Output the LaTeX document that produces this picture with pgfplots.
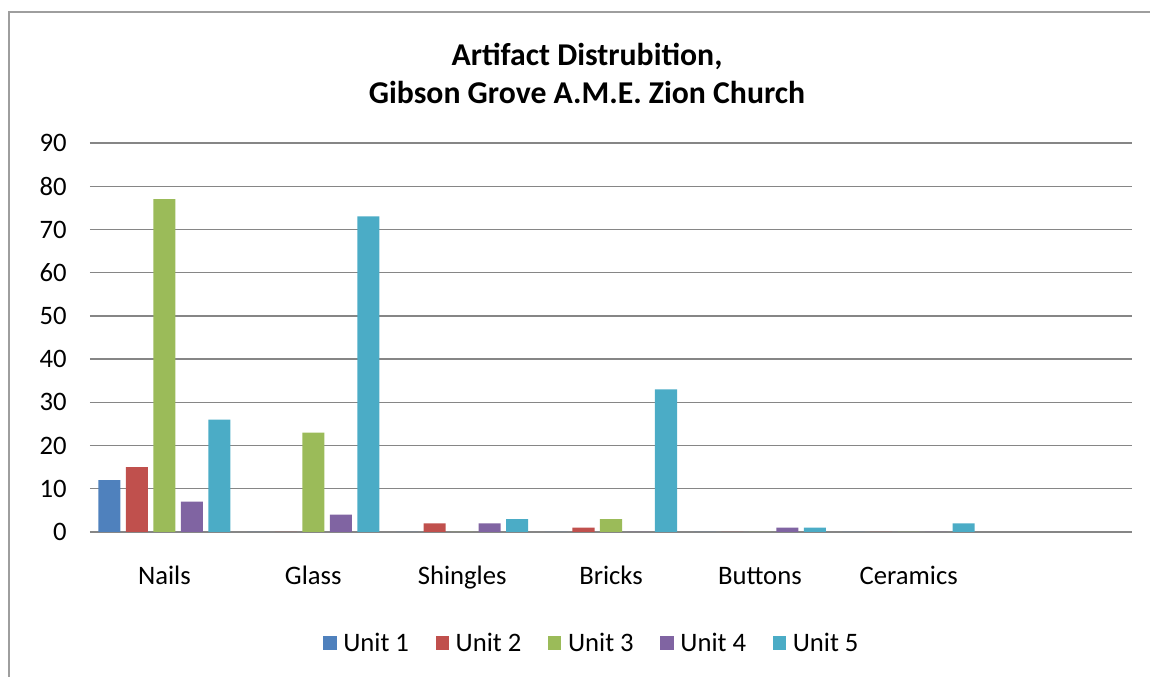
\documentclass[border=0pt]{standalone}
\usepackage{pgfplots}
\pgfplotsset{compat=1.18}
\usepackage{fontspec}
\setmainfont{Carlito}
\definecolor{c1}{HTML}{4F81BD}
\definecolor{c2}{HTML}{C0504D}
\definecolor{c3}{HTML}{9BBB59}
\definecolor{c4}{HTML}{8064A2}
\definecolor{c5}{HTML}{4BACC6}
\definecolor{gridc}{HTML}{868686}
\begin{document}
\begin{tikzpicture}[x=0.75pt,y=0.75pt]
\useasboundingbox (0,0) rectangle (1150,677);
\draw[gridc!80,line width=1.5] (8.5,0) -- (8.5,665) -- (1150,665);
\node[font=\bfseries\fontsize{23.8}{28.5}\selectfont,align=center] at (587,604) {Artifact Distrubition,\\Gibson Grove A.M.E. Zion Church};
\begin{axis}[
  at={(67.5pt,108.75pt)}, anchor=south west,
  scale only axis, width=781.5pt, height=291.75pt,
  ybar, bar width=0.148,
  xmin=-0.5, xmax=6.5, ymin=0, ymax=90,
  ytick={0,10,...,90},
  xtick={0,1,2,3,4,5},
  xticklabels={Nails,Glass,Shingles,Bricks,Buttons,Ceramics},
  axis line style={draw=none},
  major tick length=0pt,
  ymajorgrids, grid style={gridc, line width=1pt},
  tick label style={font=\fontsize{20}{23}\selectfont},
  /pgf/number format/assume math mode=true,
  xticklabel style={yshift=-22pt, text height=14pt, text depth=4pt},
  yticklabel style={xshift=-14pt},
  legend style={at={(0.482,-0.245)}, anchor=north, draw=none, font=\fontsize{20}{23}\selectfont,
    legend columns=5, /tikz/every even column/.append style={column sep=18pt},
    /tikz/every odd column/.append style={column sep=0pt}},
  legend image code/.code={\fill[#1] (0pt,-5pt) rectangle (10pt,5pt);},
  legend cell align=left,
]
\addplot[fill=c1, draw=none, bar shift=-0.3694] coordinates {(0,12) (1,0) (2,0) (3,0) (4,0) (5,0)};
\addplot[fill=c2, draw=none, bar shift=-0.1847] coordinates {(0,15) (1,0) (2,2) (3,1) (4,0) (5,0)};
\addplot[fill=c3, draw=none, bar shift=0] coordinates {(0,77) (1,23) (2,0) (3,3) (4,0) (5,0)};
\addplot[fill=c4, draw=none, bar shift=0.1847] coordinates {(0,7) (1,4) (2,2) (3,0) (4,1) (5,0)};
\addplot[fill=c5, draw=none, bar shift=0.3694] coordinates {(0,26) (1,73) (2,3) (3,33) (4,1) (5,2)};
\legend{\hspace{3pt}Unit 1,\hspace{3pt}Unit 2,\hspace{3pt}Unit 3,\hspace{3pt}Unit 4,\hspace{3pt}Unit 5}
\end{axis}
\end{tikzpicture}
\end{document}
